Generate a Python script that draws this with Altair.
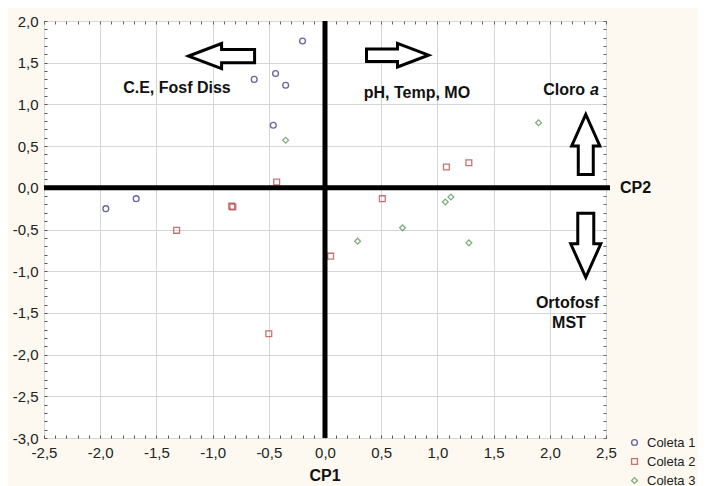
import altair as alt
import pandas as pd

# ---- data ----
series = ["Coleta 1", "Coleta 2", "Coleta 3"]
c1_x = [-0.20, -0.63, -0.44, -0.35, -0.46, -1.95, -1.68]
c1_y = [1.76, 1.30, 1.37, 1.23, 0.75, -0.25, -0.13]
c2_x = [-0.43, -0.83, -0.82, -1.32, -0.50, 0.05, 1.08, 1.28, 0.51]
c2_y = [0.07, -0.22, -0.23, -0.51, -1.75, -0.82, 0.25, 0.30, -0.13]
c3_x = [-0.35, 1.90, 1.07, 1.12, 0.69, 0.29, 1.28]
c3_y = [0.57, 0.78, -0.17, -0.11, -0.48, -0.64, -0.66]

x_ticks = [round(-2.5 + 0.1 * i, 1) for i in range(51)]
y_ticks = [round(-3.0 + 0.1 * i, 1) for i in range(51)]

colors = ["#23237d", "#b03a3a", "#4f8a4f"]
shapes = ["circle", "square", "diamond"]

rows = []
for name, xs, ys in zip(series, [c1_x, c2_x, c3_x], [c1_y, c2_y, c3_y]):
    for a, b in zip(xs, ys):
        rows.append({"CP1": a, "CP2": b, "Coleta": name})
df = pd.DataFrame(rows)

W, H = 562, 417
FONT = "Liberation Sans"
major = "abs(datum.value*2 - round(datum.value*2)) < 0.001"
lab = f"{major} ? replace(replace(format(datum.value, '.1f'), '.', ','), '\u2212', '-') : ''"

xscale = alt.Scale(domain=[-2.5, 2.5], nice=False, zero=False)
yscale = alt.Scale(domain=[-3.0, 2.0], nice=False, zero=False)

xaxis = alt.Axis(values=x_ticks, tickCount=500, labelExpr=lab, title=None, domain=False,
                 tickSize=3, offset=-3, labelPadding=7, tickColor="#555",
                 grid=True, gridColor="#d6d6d6",
                 gridOpacity=alt.condition(major, alt.value(1), alt.value(0)),
                 labelFont=FONT, labelFontSize=15, labelColor="#222",
                 labelFlush=False, labelOverlap=False)
yaxis = alt.Axis(values=y_ticks, tickCount=500, labelExpr=lab, title=None, domain=False,
                 tickSize=3, offset=-3, labelPadding=6, tickColor="#555",
                 grid=True, gridColor="#d6d6d6",
                 gridOpacity=alt.condition(major, alt.value(1), alt.value(0)),
                 labelFont=FONT, labelFontSize=15, labelColor="#222",
                 labelFlush=False, labelOverlap=False)

points = alt.Chart(df).mark_point(filled=False, size=34, strokeWidth=1.3, clip=False).encode(
    x=alt.X("CP1:Q", scale=xscale, axis=xaxis),
    y=alt.Y("CP2:Q", scale=yscale, axis=yaxis),
    color=alt.Color("Coleta:N", scale=alt.Scale(domain=series, range=colors),
                    legend=alt.Legend(title=None, orient="none", legendX=584, legendY=415,
                                      labelFont=FONT, labelFontSize=13, labelColor="#222",
                                      symbolSize=34, symbolStrokeWidth=1.3, rowPadding=5,
                                      labelOffset=6, padding=0)),
    shape=alt.Shape("Coleta:N", scale=alt.Scale(domain=series, range=shapes)),
)

base = alt.Chart(pd.DataFrame({"k": [0]}))

hline = base.mark_rule(color="black", strokeWidth=5).encode(
    y=alt.Y(datum=0, scale=yscale), x=alt.value(0), x2=alt.value(W + 4))
vline = base.mark_rule(color="black", strokeWidth=5).encode(
    x=alt.X(datum=0, scale=xscale), y=alt.value(0), y2=alt.value(H))

arrow_h = "M 1 0 L 0 -0.38 L 0 -0.2 L -1 -0.2 L -1 0.2 L 0 0.2 L 0 0.38 Z"
arrow_v = "M 1 0 L -0.05 -0.47 L -0.05 -0.25 L -1 -0.25 L -1 0.25 L -0.05 0.25 L -0.05 0.47 Z"

def arrow(path, size, angle, xv, yv):
    return base.mark_point(shape=path, size=size, angle=angle, filled=True, fill="white",
                           stroke="black", strokeWidth=3, opacity=1).encode(
        x=alt.X(datum=xv, scale=xscale), y=alt.Y(datum=yv, scale=yscale))

arrows = [
    arrow(arrow_h, 66 * 66, 180, -0.92, 1.58),
    arrow(arrow_h, 62 * 62, 0, 0.645, 1.59),
    arrow(arrow_v, 60 * 60, 270, 2.32, 0.52),
    arrow(arrow_v, 64 * 64, 90, 2.32, -0.69),
]

def label(text, xv, yv, align="center", dx=0, italic=False):
    return base.mark_text(text=text, font=FONT, fontSize=16, fontWeight="bold",
                          fontStyle="italic" if italic else "normal", align=align,
                          baseline="middle", dx=dx, color="#111").encode(
        x=alt.X(datum=xv, scale=xscale), y=alt.Y(datum=yv, scale=yscale))

texts = [
    label("C.E, Fosf Diss", -1.317, 1.20),
    label("pH, Temp, MO", 0.818, 1.14),
    label("Cloro", 2.5, 1.17, align="right", dx=-21),
    label("a", 2.5, 1.17, align="right", dx=-7, italic=True),
    label("Ortofosf", 2.5, -1.38, align="right", dx=-7),
    label("MST", 2.5, -1.62, align="center", dx=-37),
]

cp1 = base.mark_text(text="CP1", font=FONT, fontSize=16, fontWeight="bold",
                     baseline="middle", color="#111").encode(
    x=alt.X(datum=0, scale=xscale), y=alt.value(H + 38))
cp2 = base.mark_text(text="CP2", font=FONT, fontSize=16, fontWeight="bold",
                     align="left", baseline="middle", color="#111").encode(
    x=alt.value(W + 14), y=alt.Y(datum=0, scale=yscale))

main = alt.layer(points, hline, vline, *arrows, *texts, cp1, cp2)

# minor ticks on the top and right edges (pointing inward)
tick_top = alt.Axis(orient="top", values=x_ticks, tickCount=500, labels=False, domain=False,
                    grid=False, tickSize=3, offset=-3, tickColor="#666", title=None)
tick_right = alt.Axis(orient="right", values=y_ticks, tickCount=500, labels=False, domain=False,
                      grid=False, tickSize=3, offset=-3, tickColor="#666", title=None)
edge = base.mark_point(opacity=0).encode(
    x=alt.XDatum(0, scale=xscale, axis=tick_top),
    y=alt.YDatum(0, scale=yscale, axis=tick_right))

chart = alt.layer(main, edge).resolve_scale(x="independent", y="independent").properties(
    width=W, height=H,
    autosize=alt.AutoSizeParams(type="none"),
    padding={"left": 36, "top": 13, "right": 92, "bottom": 48},
    background="#fdf9f0",
).configure_view(fill="white", stroke="#444", strokeWidth=1)

chart.save("out.html", embed_options={"renderer": "svg", "actions": False})
